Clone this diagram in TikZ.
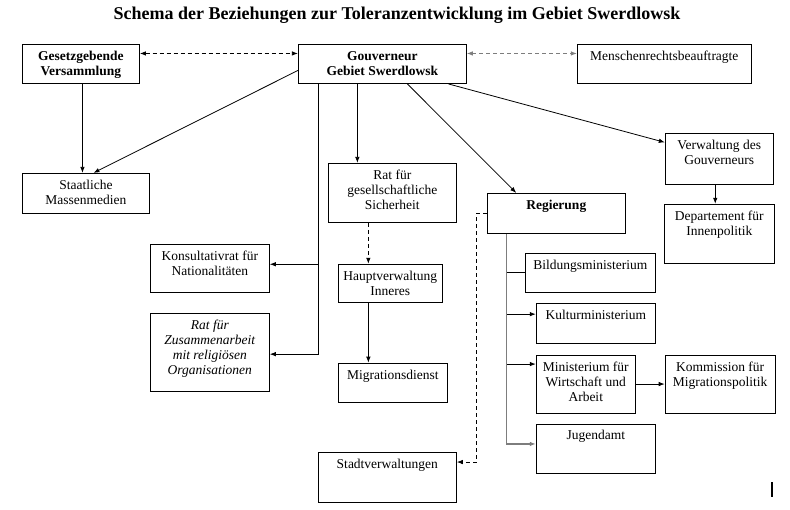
\documentclass[tikz,border=0pt]{standalone}
\usepackage{fontspec}
\setmainfont{Liberation Serif}
\usetikzlibrary{positioning,arrows.meta}
\definecolor{linegray}{RGB}{125,125,125}
\newcommand{\boxfont}{\fontsize{13.5}{15}\selectfont}

\begin{document}
\begin{tikzpicture}[x=1pt, y=1pt]

% Define styles
\tikzstyle{box} = [rectangle, draw=black, line width=0.9pt, align=center, text height=10pt, inner ysep=6pt, inner xsep=2pt, font=\boxfont]
\tikzstyle{twolines} = [text height=25pt]
\tikzstyle{threelines} = [text height=40pt]
\tikzstyle{fourlines} = [text height=55pt]
\tikzstyle{arrow} = [-{Latex[length=6pt,width=4.5pt]}, line width=0.8pt, draw=black]
\tikzstyle{dasharrow} = [arrow, dash pattern=on 4pt off 3pt]
\tikzstyle{twoway} = [{Latex[length=6pt,width=4.5pt]}-{Latex[length=6pt,width=4.5pt]}, line width=0.8pt, dash pattern=on 4pt off 3pt]

\useasboundingbox (0,0) rectangle (790,-509);

% Title
\node[font=\fontsize{18}{20}\selectfont\bfseries] (title) at (397,-15) {Schema der Beziehungen zur Toleranzentwicklung im Gebiet Swerdlowsk};

% Define top row
\node[box, twolines, font=\boxfont\bfseries, minimum width=117pt, text depth=2pt, anchor=north west] (gesetz) at (22,-44) {Gesetzgebende\\Versammlung};
\node[box, twolines, font=\boxfont\bfseries, minimum width=168pt, text depth=2pt, right=158pt of gesetz] (gouverneur) {Gouverneur\\Gebiet Swerdlowsk};
\node[box, minimum width=174pt, text depth=17pt, right=110pt of gouverneur] (menschen) {Menschenrechtsbeauftragte};

% Define left column
\node[box, twolines, minimum width=127pt, text depth=3pt, below right=89pt and 0pt of gesetz.south west] (medien) {Staatliche\\Massenmedien};
\node[box, twolines, minimum width=119pt, text depth=11pt, below right=30pt and 0pt of medien.south east] (konsultativ) {Konsultativrat für\\Nationalitäten};
\node[box, fourlines, font=\boxfont\itshape, minimum width=119pt, text depth=11pt, below right=20pt and 0pt of konsultativ.south west] (ratReligion) {Rat für\\Zusammenarbeit\\mit religiösen\\Organisationen};

% Define middle column
\node[box, threelines, minimum width=128pt, text depth=7pt, below right=79pt and 30pt of gouverneur.south west] (ratSicherheit) {Rat für\\gesellschaftliche\\Sicherheit};
\node[box, twolines, minimum width=104pt, text depth=1pt, below right=41pt and 10pt of ratSicherheit.south west] (hauptverwaltung) {Hauptverwaltung\\Inneres};
\node[box, minimum width=109pt, text depth=17pt, below right=60pt and 0pt of hauptverwaltung.south west] (migrationsdienst) {Migrationsdienst};
\node[box, minimum width=138pt, text depth=28pt, below right=49pt and -20pt of migrationsdienst.south west] (stadt) {Stadtverwaltungen};

% Define government and ministries
\node[box, font=\boxfont\bfseries, minimum width=138pt, text depth=18pt, below right=30pt and 30pt of ratSicherheit.north east] (regierung) {Regierung};
\node[box, minimum width=130pt, text depth=17pt, below right=19pt and 38pt of regierung.south west] (bildung) {Bildungsministerium};
\node[box, minimum width=119pt, text depth=18pt, below right=10pt and 11pt of bildung.south west] (kultur) {Kulturministerium};
\node[box, threelines, minimum width=99pt, text depth=6pt, below right=11pt and 0pt of kultur.south west] (wirtschaft) {Ministerium für\\Wirtschaft und\\Arbeit};
\node[box, minimum width=119pt, text depth=27pt, below right=10pt and 0pt of wirtschaft.south west] (jugendamt) {Jugendamt};
\node[box, twolines, minimum width=110pt, text depth=21pt, right=29pt of wirtschaft] (kommission) {Kommission für\\Migrationspolitik};

% Define right column
\node[box, twolines, minimum width=108pt, text depth=14pt, below right=49pt and 88pt of menschen.south west] (verwaltung) {Verwaltung des\\Gouverneurs};
\node[box, twolines, minimum width=110pt, text depth=22pt, below=19pt of verwaltung] (departement) {Departement für\\Innenpolitik};

% Relationships (arrows)
\draw[twoway] ([yshift=10.5pt]gesetz.east) -- ([yshift=10.5pt]gouverneur.west);
\draw[twoway, draw=linegray] ([yshift=10.5pt]gouverneur.east) -- ([yshift=10.5pt]menschen.west);

\draw[arrow] ([xshift=1.5pt]gesetz.south) -- ([xshift=1.5pt]gesetz.south |- medien.north);
\draw[arrow] ([yshift=-6.5pt]gouverneur.west) -- ([xshift=7.5pt]medien.north);
\draw[arrow] ([xshift=-25pt]gouverneur.south) -- ([xshift=-25pt]gouverneur.south |- ratSicherheit.north);
\draw[arrow] ([xshift=25pt]gouverneur.south) -- ([xshift=-40pt]regierung.north);
\draw[arrow] ([xshift=66pt]gouverneur.south) -- ([yshift=16.5pt]verwaltung.west);
\draw[arrow] ([xshift=-4pt]verwaltung.south) -- ([xshift=-4pt]departement.north);

\coordinate (trunk) at ([xshift=-64pt]gouverneur.south);
\draw[arrow] (trunk) |- ([yshift=-2pt]ratReligion.east);
\draw[arrow] ([yshift=4pt]konsultativ.east -| trunk) -- ([yshift=4pt]konsultativ.east);

\draw[dasharrow] ([xshift=-24pt]ratSicherheit.south) -- ([xshift=-24pt]ratSicherheit.south |- hauptverwaltung.north);
\draw[arrow] ([xshift=-22pt]hauptverwaltung.south) -- ([xshift=-22pt]hauptverwaltung.south |- migrationsdienst.north);

\coordinate (regTrunk) at ([xshift=20pt]regierung.south west);
\draw[arrow, draw=linegray, line width=1.2pt] (regTrunk) |- ([yshift=4.5pt]jugendamt.west);
\draw[line width=0.8pt] (bildung.west -| regTrunk) -- (bildung.west);
\draw[arrow] ([yshift=9pt]kultur.west -| regTrunk) -- ([yshift=9pt]kultur.west);
\draw[arrow] ([yshift=20pt]wirtschaft.west -| regTrunk) -- ([yshift=20pt]wirtschaft.west);
\draw[arrow] (wirtschaft.east) -- (kommission.west);

\draw[dasharrow] (regierung.west) -- ++(-10pt,0) |- ([yshift=15pt]stadt.east);

% Mark at lower right
\draw[line width=2pt] (772,-482) -- (772,-497);

\end{tikzpicture}
\end{document}
